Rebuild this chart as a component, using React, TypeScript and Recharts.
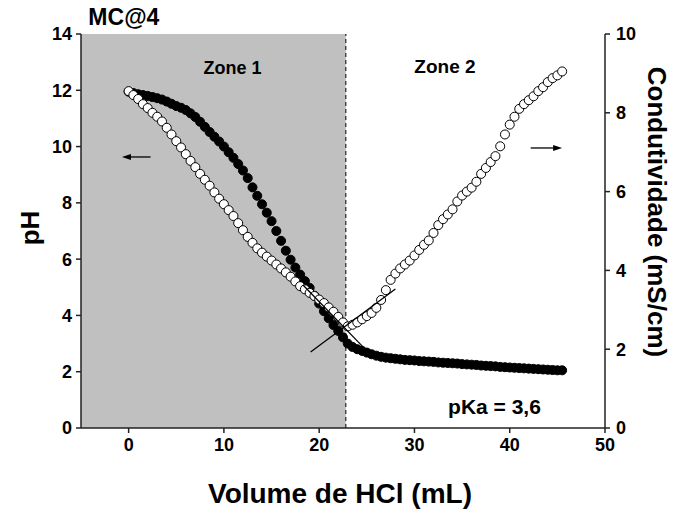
import {
  ComposedChart,
  Scatter,
  XAxis,
  YAxis,
  ReferenceArea,
  ReferenceLine,
  ReferenceDot,
} from 'recharts';

const FONT = 'Arial, "Liberation Sans", sans-serif';

// volume de HCl (mL)
const volumes = [
  0, 0.5, 1, 1.5, 2, 2.5, 3, 3.5, 4, 4.5, 5, 5.5, 6, 6.5, 7, 7.5, 8, 8.5, 9, 9.5,
  10, 10.5, 11, 11.5, 12, 12.5, 13, 13.5, 14, 14.5, 15, 15.5, 16, 16.5, 17, 17.5, 18, 18.5, 19, 19.5,
  20, 20.5, 21, 21.5, 22, 22.5, 23, 23.5, 24, 24.5, 25, 25.5, 26, 26.5, 27, 27.5, 28, 28.5, 29, 29.5,
  30, 30.5, 31, 31.5, 32, 32.5, 33, 33.5, 34, 34.5, 35, 35.5, 36, 36.5, 37, 37.5, 38, 38.5, 39, 39.5,
  40, 40.5, 41, 41.5, 42, 42.5, 43, 43.5, 44, 44.5, 45, 45.5,
];

// pH (filled circles, left axis)
const phValues = [
  11.95, 11.9, 11.86, 11.83, 11.8, 11.76, 11.72, 11.67, 11.6, 11.52, 11.44, 11.38, 11.3, 11.18, 11.05, 10.88, 10.7, 10.52, 10.35, 10.18,
  10.0, 9.8, 9.6, 9.38, 9.15, 8.88, 8.55, 8.25, 7.95, 7.65, 7.35, 7.0, 6.65, 6.3, 5.98, 5.7, 5.45, 5.22, 4.98, 4.7,
  4.42, 4.15, 3.9, 3.66, 3.45, 3.22, 3.0, 2.88, 2.8, 2.74, 2.68, 2.62, 2.57, 2.53, 2.5, 2.48, 2.46, 2.44, 2.42, 2.41,
  2.4, 2.38, 2.37, 2.36, 2.35, 2.33, 2.32, 2.31, 2.3, 2.29, 2.27, 2.26, 2.25, 2.24, 2.22, 2.21, 2.2, 2.19, 2.17, 2.16,
  2.15, 2.14, 2.13, 2.12, 2.11, 2.1, 2.09, 2.08, 2.07, 2.06, 2.05, 2.05,
];

// condutividade mS/cm (open circles, right axis)
const condValues = [
  8.55, 8.45, 8.35, 8.22, 8.12, 8.0, 7.9, 7.78, 7.62, 7.45, 7.28, 7.12, 6.95, 6.78, 6.62, 6.45, 6.3, 6.15, 5.98, 5.82,
  5.68, 5.53, 5.38, 5.2, 5.02, 4.85, 4.7, 4.56, 4.45, 4.35, 4.25, 4.15, 4.05, 3.95, 3.84, 3.72, 3.6, 3.52, 3.43, 3.35,
  3.26, 3.17, 3.06, 2.95, 2.82, 2.68, 2.58, 2.62, 2.68, 2.76, 2.84, 2.92, 3.05, 3.25, 3.5, 3.76, 3.92, 4.05, 4.15, 4.25,
  4.38, 4.52, 4.65, 4.76, 4.95, 5.15, 5.3, 5.42, 5.55, 5.75, 5.9, 6.0, 6.1, 6.25, 6.45, 6.6, 6.75, 6.9, 7.15, 7.45,
  7.7, 7.9, 8.1, 8.22, 8.32, 8.42, 8.55, 8.65, 8.78, 8.88, 8.95, 9.05,
];

// tangent lines (volume, condutividade)
const tangentUp = [
  { v: 19.1, c: 1.93 },
  { v: 28.0, c: 3.53 },
];
const tangentDown = [
  { v: 18.3, c: 3.63 },
  { v: 24.6, c: 2.06 },
];

const xTicks = [0, 10, 20, 30, 40, 50];
const phTicks = [0, 2, 4, 6, 8, 10, 12, 14];
const condTicks = [0, 2, 4, 6, 8, 10];
const equivalence = 22.8;

const phData = volumes.map((v, i) => ({ v, ph: phValues[i] }));
const condData = volumes.map((v, i) => ({ v, c: condValues[i] }));

const tickStyle = { fill: '#000', fontSize: 18, fontWeight: 'bold', fontFamily: FONT };
const axisStroke = { stroke: '#222', strokeWidth: 1.5 };

const axisTitle = (text: string, dx: number, dy: number, angle: number, size: number) =>
  (props: any) => {
    const vb = props.viewBox || { x: 0, y: 0, width: 0, height: 0 };
    const x = vb.x + vb.width / 2 + dx;
    const y = vb.y + vb.height / 2 + dy;
    return (
      <text
        x={x}
        y={y}
        textAnchor="middle"
        dominantBaseline="central"
        transform={angle ? `rotate(${angle}, ${x}, ${y})` : undefined}
        fill="#000"
        fontSize={size}
        fontWeight="bold"
        fontFamily={FONT}
      >
        {text}
      </text>
    );
  };

const arrowShape = (props: any) => {
  const { x1, y1, x2, y2 } = props;
  const dir = x2 > x1 ? 1 : -1;
  return (
    <g>
      <line x1={x1} y1={y1} x2={x2 - dir * 6} y2={y2} stroke="#000" strokeWidth={1.3} />
      <polygon
        points={`${x2},${y2} ${x2 - dir * 9},${y2 - 3} ${x2 - dir * 9},${y2 + 3}`}
        fill="#000"
      />
    </g>
  );
};

const noMarker = () => <g />;

const textLabel = (value: string, size: number) => ({
  value,
  position: 'center' as const,
  fill: '#000',
  fontSize: size,
  fontWeight: 'bold',
  fontFamily: FONT,
});

export default function App() {
  return (
    <div style={{ position: 'absolute', left: 0, top: 0, fontFamily: FONT }}>
      <ComposedChart
        width={684}
        height={512}
        margin={{ top: 34, right: 29, bottom: 44, left: 21 }}
      >
        <XAxis
          xAxisId="bottom"
          dataKey="v"
          type="number"
          domain={[-5, 50]}
          ticks={xTicks}
          allowDataOverflow
          height={40}
          tick={tickStyle}
          tickSize={5}
          tickMargin={5}
          axisLine={axisStroke}
          tickLine={axisStroke}
          label={{ content: axisTitle('Volume de HCl (mL)', -3, 45, 0, 28) }}
        />
        <XAxis
          xAxisId="top"
          orientation="top"
          dataKey="v"
          type="number"
          domain={[-5, 50]}
          ticks={xTicks}
          height={0}
          tick={false}
          tickSize={3}
          axisLine={axisStroke}
          tickLine={axisStroke}
        />
        <YAxis
          yAxisId="ph"
          dataKey="ph"
          type="number"
          domain={[0, 14]}
          ticks={phTicks}
          width={60}
          tick={tickStyle}
          tickSize={5}
          tickMargin={4}
          axisLine={axisStroke}
          tickLine={axisStroke}
          label={{ content: axisTitle('pH', -21, -3, -90, 26) }}
        />
        <YAxis
          yAxisId="cond"
          dataKey="c"
          orientation="right"
          type="number"
          domain={[0, 10]}
          ticks={condTicks}
          width={50}
          tick={tickStyle}
          tickSize={5}
          tickMargin={6}
          axisLine={axisStroke}
          tickLine={axisStroke}
          label={{ content: axisTitle('Condutividade (mS/cm)', 27, -19, 90, 26) }}
        />

        <ReferenceArea
          xAxisId="bottom"
          yAxisId="ph"
          x1={-5}
          x2={equivalence}
          y1={0}
          y2={14}
          fill="#c0c0c0"
          fillOpacity={1}
          stroke="none"
        />
        <ReferenceLine
          xAxisId="bottom"
          yAxisId="ph"
          x={equivalence}
          stroke="#000"
          strokeWidth={1}
          strokeDasharray="4 3"
        />

        <Scatter
          name="pH"
          xAxisId="bottom"
          yAxisId="ph"
          data={phData}
          fill="#000"
          stroke="#000"
          shape="circle"
          line={{ stroke: '#000', strokeWidth: 0.8, strokeDasharray: '1 2' }}
          isAnimationActive={false}
        />
        <Scatter
          name="Condutividade"
          xAxisId="bottom"
          yAxisId="cond"
          data={condData}
          fill="#fff"
          stroke="#000"
          strokeWidth={1}
          shape="circle"
          isAnimationActive={false}
        />

        {/* tangentes */}
        <Scatter
          xAxisId="bottom"
          yAxisId="cond"
          data={tangentUp}
          shape={noMarker}
          line={{ stroke: '#000', strokeWidth: 1.3 }}
          legendType="none"
          isAnimationActive={false}
        />
        <Scatter
          xAxisId="bottom"
          yAxisId="cond"
          data={tangentDown}
          shape={noMarker}
          line={{ stroke: '#000', strokeWidth: 1.3 }}
          legendType="none"
          isAnimationActive={false}
        />

        {/* setas */}
        <ReferenceLine
          xAxisId="bottom"
          yAxisId="ph"
          segment={[{ x: 2.3, y: 9.63 }, { x: -0.7, y: 9.63 }]}
          shape={arrowShape}
        />
        <ReferenceLine
          xAxisId="bottom"
          yAxisId="ph"
          segment={[{ x: 42.2, y: 9.95 }, { x: 45.5, y: 9.95 }]}
          shape={arrowShape}
        />

        <ReferenceDot xAxisId="bottom" yAxisId="ph" x={10.9} y={12.79} r={0} fill="none" stroke="none" label={textLabel('Zone 1', 18)} />
        <ReferenceDot xAxisId="bottom" yAxisId="ph" x={33.2} y={12.86} r={0} fill="none" stroke="none" label={textLabel('Zone 2', 19)} />
        <ReferenceDot xAxisId="bottom" yAxisId="ph" x={38.4} y={0.78} r={0} fill="none" stroke="none" label={textLabel('pKa = 3,6', 21)} />
        <ReferenceDot
          xAxisId="bottom"
          yAxisId="ph"
          x={-0.5}
          y={14.6}
          r={0}
          fill="none"
          stroke="none"
          ifOverflow="visible"
          label={textLabel('MC@4', 23)}
        />
      </ComposedChart>
    </div>
  );
}
